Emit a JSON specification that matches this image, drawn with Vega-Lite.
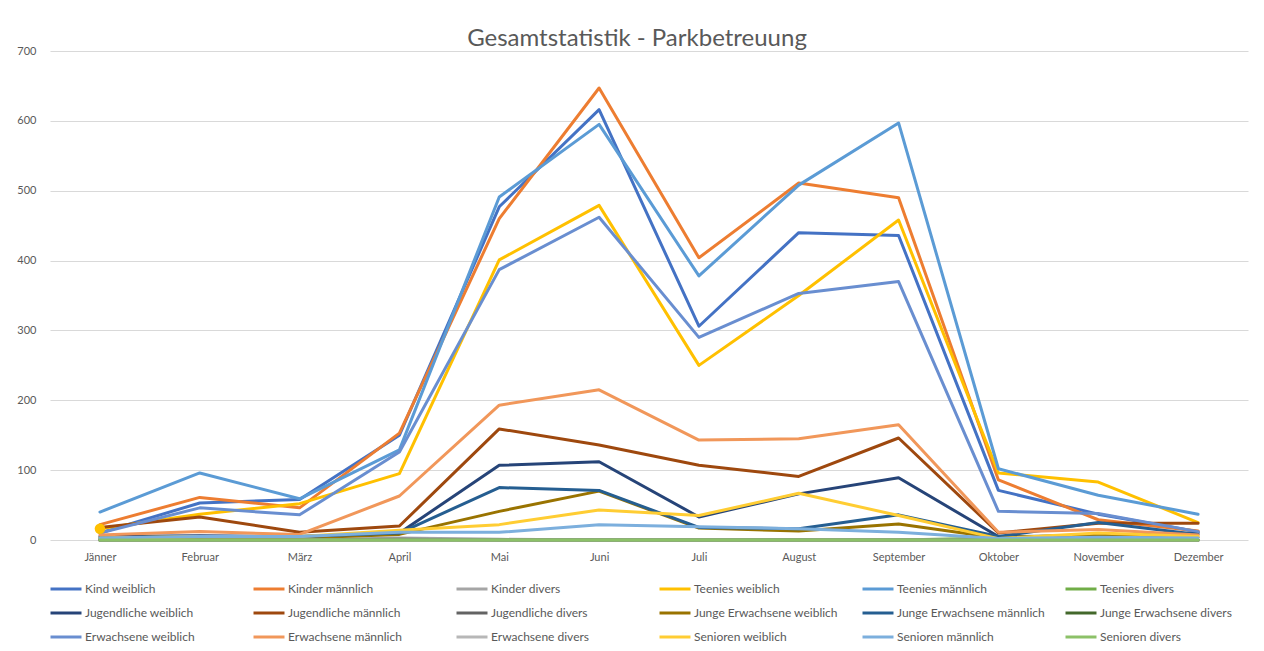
{
  "$schema": "https://vega.github.io/schema/vega-lite/v6.json",
  "width": 1198,
  "height": 489,
  "autosize": "none",
  "padding": {"left": 50, "top": 51, "right": 16, "bottom": 111},
  "background": "white",
  "title": {
    "text": "Gesamtstatistik - Parkbetreuung",
    "fontSize": 24,
    "font": "Lato",
    "fontWeight": "normal",
    "color": "#595959",
    "anchor": "middle",
    "dx": -12,
    "offset": -6
  },
  "config": {
    "view": {"stroke": null},
    "font": "Lato",
    "axis": {
      "labelFont": "Lato",
      "labelColor": "#595959",
      "labelFontSize": 11,
      "titleColor": "#595959"
    },
    "legend": {
      "labelFont": "Lato",
      "labelColor": "#595959",
      "labelFontSize": 12
    }
  },
  "data": {
    "values": [
      {"s":"Kind weiblich","m":"Jänner","v":10},{"s":"Kind weiblich","m":"Februar","v":53},{"s":"Kind weiblich","m":"März","v":58},{"s":"Kind weiblich","m":"April","v":150},{"s":"Kind weiblich","m":"Mai","v":477},{"s":"Kind weiblich","m":"Juni","v":616},{"s":"Kind weiblich","m":"Juli","v":306},{"s":"Kind weiblich","m":"August","v":440},{"s":"Kind weiblich","m":"September","v":436},{"s":"Kind weiblich","m":"Oktober","v":71},{"s":"Kind weiblich","m":"November","v":37},{"s":"Kind weiblich","m":"Dezember","v":12},
      {"s":"Kinder männlich","m":"Jänner","v":22},{"s":"Kinder männlich","m":"Februar","v":61},{"s":"Kinder männlich","m":"März","v":46},{"s":"Kinder männlich","m":"April","v":153},{"s":"Kinder männlich","m":"Mai","v":460},{"s":"Kinder männlich","m":"Juni","v":647},{"s":"Kinder männlich","m":"Juli","v":404},{"s":"Kinder männlich","m":"August","v":511},{"s":"Kinder männlich","m":"September","v":490},{"s":"Kinder männlich","m":"Oktober","v":86},{"s":"Kinder männlich","m":"November","v":29},{"s":"Kinder männlich","m":"Dezember","v":13},
      {"s":"Kinder divers","m":"Jänner","v":0},{"s":"Kinder divers","m":"Februar","v":0},{"s":"Kinder divers","m":"März","v":0},{"s":"Kinder divers","m":"April","v":3},{"s":"Kinder divers","m":"Mai","v":1},{"s":"Kinder divers","m":"Juni","v":0},{"s":"Kinder divers","m":"Juli","v":0},{"s":"Kinder divers","m":"August","v":0},{"s":"Kinder divers","m":"September","v":0},{"s":"Kinder divers","m":"Oktober","v":0},{"s":"Kinder divers","m":"November","v":1},{"s":"Kinder divers","m":"Dezember","v":0},
      {"s":"Teenies weiblich","m":"Jänner","v":16},{"s":"Teenies weiblich","m":"Februar","v":37},{"s":"Teenies weiblich","m":"März","v":52},{"s":"Teenies weiblich","m":"April","v":95},{"s":"Teenies weiblich","m":"Mai","v":401},{"s":"Teenies weiblich","m":"Juni","v":479},{"s":"Teenies weiblich","m":"Juli","v":250},{"s":"Teenies weiblich","m":"August","v":350},{"s":"Teenies weiblich","m":"September","v":458},{"s":"Teenies weiblich","m":"Oktober","v":96},{"s":"Teenies weiblich","m":"November","v":83},{"s":"Teenies weiblich","m":"Dezember","v":25},
      {"s":"Teenies männlich","m":"Jänner","v":40},{"s":"Teenies männlich","m":"Februar","v":96},{"s":"Teenies männlich","m":"März","v":59},{"s":"Teenies männlich","m":"April","v":129},{"s":"Teenies männlich","m":"Mai","v":491},{"s":"Teenies männlich","m":"Juni","v":595},{"s":"Teenies männlich","m":"Juli","v":378},{"s":"Teenies männlich","m":"August","v":508},{"s":"Teenies männlich","m":"September","v":597},{"s":"Teenies männlich","m":"Oktober","v":102},{"s":"Teenies männlich","m":"November","v":64},{"s":"Teenies männlich","m":"Dezember","v":37},
      {"s":"Teenies divers","m":"Jänner","v":0},{"s":"Teenies divers","m":"Februar","v":0},{"s":"Teenies divers","m":"März","v":0},{"s":"Teenies divers","m":"April","v":0},{"s":"Teenies divers","m":"Mai","v":0},{"s":"Teenies divers","m":"Juni","v":0},{"s":"Teenies divers","m":"Juli","v":0},{"s":"Teenies divers","m":"August","v":0},{"s":"Teenies divers","m":"September","v":0},{"s":"Teenies divers","m":"Oktober","v":3},{"s":"Teenies divers","m":"November","v":0},{"s":"Teenies divers","m":"Dezember","v":0},
      {"s":"Jugendliche weiblich","m":"Jänner","v":5},{"s":"Jugendliche weiblich","m":"Februar","v":6},{"s":"Jugendliche weiblich","m":"März","v":5},{"s":"Jugendliche weiblich","m":"April","v":10},{"s":"Jugendliche weiblich","m":"Mai","v":107},{"s":"Jugendliche weiblich","m":"Juni","v":112},{"s":"Jugendliche weiblich","m":"Juli","v":33},{"s":"Jugendliche weiblich","m":"August","v":66},{"s":"Jugendliche weiblich","m":"September","v":89},{"s":"Jugendliche weiblich","m":"Oktober","v":5},{"s":"Jugendliche weiblich","m":"November","v":6},{"s":"Jugendliche weiblich","m":"Dezember","v":10},
      {"s":"Jugendliche männlich","m":"Jänner","v":18},{"s":"Jugendliche männlich","m":"Februar","v":33},{"s":"Jugendliche männlich","m":"März","v":11},{"s":"Jugendliche männlich","m":"April","v":20},{"s":"Jugendliche männlich","m":"Mai","v":159},{"s":"Jugendliche männlich","m":"Juni","v":136},{"s":"Jugendliche männlich","m":"Juli","v":107},{"s":"Jugendliche männlich","m":"August","v":91},{"s":"Jugendliche männlich","m":"September","v":146},{"s":"Jugendliche männlich","m":"Oktober","v":10},{"s":"Jugendliche männlich","m":"November","v":24},{"s":"Jugendliche männlich","m":"Dezember","v":24},
      {"s":"Jugendliche divers","m":"Jänner","v":0},{"s":"Jugendliche divers","m":"Februar","v":0},{"s":"Jugendliche divers","m":"März","v":0},{"s":"Jugendliche divers","m":"April","v":1},{"s":"Jugendliche divers","m":"Mai","v":0},{"s":"Jugendliche divers","m":"Juni","v":0},{"s":"Jugendliche divers","m":"Juli","v":0},{"s":"Jugendliche divers","m":"August","v":0},{"s":"Jugendliche divers","m":"September","v":0},{"s":"Jugendliche divers","m":"Oktober","v":0},{"s":"Jugendliche divers","m":"November","v":0},{"s":"Jugendliche divers","m":"Dezember","v":0},
      {"s":"Junge Erwachsene weiblich","m":"Jänner","v":2},{"s":"Junge Erwachsene weiblich","m":"Februar","v":3},{"s":"Junge Erwachsene weiblich","m":"März","v":3},{"s":"Junge Erwachsene weiblich","m":"April","v":8},{"s":"Junge Erwachsene weiblich","m":"Mai","v":41},{"s":"Junge Erwachsene weiblich","m":"Juni","v":70},{"s":"Junge Erwachsene weiblich","m":"Juli","v":17},{"s":"Junge Erwachsene weiblich","m":"August","v":13},{"s":"Junge Erwachsene weiblich","m":"September","v":23},{"s":"Junge Erwachsene weiblich","m":"Oktober","v":3},{"s":"Junge Erwachsene weiblich","m":"November","v":8},{"s":"Junge Erwachsene weiblich","m":"Dezember","v":4},
      {"s":"Junge Erwachsene männlich","m":"Jänner","v":3},{"s":"Junge Erwachsene männlich","m":"Februar","v":5},{"s":"Junge Erwachsene männlich","m":"März","v":5},{"s":"Junge Erwachsene männlich","m":"April","v":10},{"s":"Junge Erwachsene männlich","m":"Mai","v":75},{"s":"Junge Erwachsene männlich","m":"Juni","v":71},{"s":"Junge Erwachsene männlich","m":"Juli","v":18},{"s":"Junge Erwachsene männlich","m":"August","v":16},{"s":"Junge Erwachsene männlich","m":"September","v":36},{"s":"Junge Erwachsene männlich","m":"Oktober","v":5},{"s":"Junge Erwachsene männlich","m":"November","v":25},{"s":"Junge Erwachsene männlich","m":"Dezember","v":8},
      {"s":"Junge Erwachsene divers","m":"Jänner","v":0},{"s":"Junge Erwachsene divers","m":"Februar","v":0},{"s":"Junge Erwachsene divers","m":"März","v":0},{"s":"Junge Erwachsene divers","m":"April","v":0},{"s":"Junge Erwachsene divers","m":"Mai","v":0},{"s":"Junge Erwachsene divers","m":"Juni","v":0},{"s":"Junge Erwachsene divers","m":"Juli","v":0},{"s":"Junge Erwachsene divers","m":"August","v":0},{"s":"Junge Erwachsene divers","m":"September","v":0},{"s":"Junge Erwachsene divers","m":"Oktober","v":0},{"s":"Junge Erwachsene divers","m":"November","v":0},{"s":"Junge Erwachsene divers","m":"Dezember","v":0},
      {"s":"Erwachsene weiblich","m":"Jänner","v":10},{"s":"Erwachsene weiblich","m":"Februar","v":46},{"s":"Erwachsene weiblich","m":"März","v":36},{"s":"Erwachsene weiblich","m":"April","v":126},{"s":"Erwachsene weiblich","m":"Mai","v":387},{"s":"Erwachsene weiblich","m":"Juni","v":462},{"s":"Erwachsene weiblich","m":"Juli","v":290},{"s":"Erwachsene weiblich","m":"August","v":353},{"s":"Erwachsene weiblich","m":"September","v":370},{"s":"Erwachsene weiblich","m":"Oktober","v":41},{"s":"Erwachsene weiblich","m":"November","v":38},{"s":"Erwachsene weiblich","m":"Dezember","v":12},
      {"s":"Erwachsene männlich","m":"Jänner","v":7},{"s":"Erwachsene männlich","m":"Februar","v":12},{"s":"Erwachsene männlich","m":"März","v":8},{"s":"Erwachsene männlich","m":"April","v":63},{"s":"Erwachsene männlich","m":"Mai","v":193},{"s":"Erwachsene männlich","m":"Juni","v":215},{"s":"Erwachsene männlich","m":"Juli","v":143},{"s":"Erwachsene männlich","m":"August","v":145},{"s":"Erwachsene männlich","m":"September","v":165},{"s":"Erwachsene männlich","m":"Oktober","v":11},{"s":"Erwachsene männlich","m":"November","v":15},{"s":"Erwachsene männlich","m":"Dezember","v":7},
      {"s":"Erwachsene divers","m":"Jänner","v":0},{"s":"Erwachsene divers","m":"Februar","v":0},{"s":"Erwachsene divers","m":"März","v":0},{"s":"Erwachsene divers","m":"April","v":0},{"s":"Erwachsene divers","m":"Mai","v":0},{"s":"Erwachsene divers","m":"Juni","v":0},{"s":"Erwachsene divers","m":"Juli","v":0},{"s":"Erwachsene divers","m":"August","v":0},{"s":"Erwachsene divers","m":"September","v":0},{"s":"Erwachsene divers","m":"Oktober","v":0},{"s":"Erwachsene divers","m":"November","v":0},{"s":"Erwachsene divers","m":"Dezember","v":0},
      {"s":"Senioren weiblich","m":"Jänner","v":3},{"s":"Senioren weiblich","m":"Februar","v":5},{"s":"Senioren weiblich","m":"März","v":5},{"s":"Senioren weiblich","m":"April","v":14},{"s":"Senioren weiblich","m":"Mai","v":22},{"s":"Senioren weiblich","m":"Juni","v":43},{"s":"Senioren weiblich","m":"Juli","v":35},{"s":"Senioren weiblich","m":"August","v":67},{"s":"Senioren weiblich","m":"September","v":35},{"s":"Senioren weiblich","m":"Oktober","v":2},{"s":"Senioren weiblich","m":"November","v":10},{"s":"Senioren weiblich","m":"Dezember","v":5},
      {"s":"Senioren männlich","m":"Jänner","v":3},{"s":"Senioren männlich","m":"Februar","v":5},{"s":"Senioren männlich","m":"März","v":5},{"s":"Senioren männlich","m":"April","v":11},{"s":"Senioren männlich","m":"Mai","v":11},{"s":"Senioren männlich","m":"Juni","v":22},{"s":"Senioren männlich","m":"Juli","v":19},{"s":"Senioren männlich","m":"August","v":16},{"s":"Senioren männlich","m":"September","v":11},{"s":"Senioren männlich","m":"Oktober","v":2},{"s":"Senioren männlich","m":"November","v":4},{"s":"Senioren männlich","m":"Dezember","v":3},
      {"s":"Senioren divers","m":"Jänner","v":0},{"s":"Senioren divers","m":"Februar","v":0},{"s":"Senioren divers","m":"März","v":0},{"s":"Senioren divers","m":"April","v":0},{"s":"Senioren divers","m":"Mai","v":0},{"s":"Senioren divers","m":"Juni","v":0},{"s":"Senioren divers","m":"Juli","v":0},{"s":"Senioren divers","m":"August","v":0},{"s":"Senioren divers","m":"September","v":0},{"s":"Senioren divers","m":"Oktober","v":0},{"s":"Senioren divers","m":"November","v":0},{"s":"Senioren divers","m":"Dezember","v":0}
    ]
  },
  "encoding": {
    "x": {
      "field": "m",
      "type": "ordinal",
      "sort": ["Jänner","Februar","März","April","Mai","Juni","Juli","August","September","Oktober","November","Dezember"],
      "scale": {"type": "point", "padding": 0.5},
      "axis": {"title": null, "labelAngle": 0, "ticks": false, "domain": false, "grid": false, "labelPadding": 11}
    },
    "y": {
      "field": "v",
      "type": "quantitative",
      "scale": {"domain": [0, 700], "nice": false},
      "axis": {"title": null, "values": [0,100,200,300,400,500,600,700], "ticks": false, "domain": false, "grid": true, "gridColor": "#D9D9D9", "gridWidth": 1, "labelPadding": 14}
    }
  },
  "layer": [
    {
      "mark": {"type": "line", "strokeWidth": 3, "strokeJoin": "round", "strokeCap": "round"},
      "encoding": {
        "color": {
          "field": "s",
          "type": "nominal",
          "sort": null,
          "scale": {
            "domain": ["Kind weiblich","Kinder männlich","Kinder divers","Teenies weiblich","Teenies männlich","Teenies divers","Jugendliche weiblich","Jugendliche männlich","Jugendliche divers","Junge Erwachsene weiblich","Junge Erwachsene männlich","Junge Erwachsene divers","Erwachsene weiblich","Erwachsene männlich","Erwachsene divers","Senioren weiblich","Senioren männlich","Senioren divers"],
            "range": ["#4472C4","#ED7D31","#A5A5A5","#FFC000","#5B9BD5","#70AD47","#264478","#9E480E","#636363","#997300","#255E91","#43682B","#698ED0","#F1975A","#B7B7B7","#FFCD33","#7CAFDD","#8CC168"]
          },
          "legend": {
            "title": null,
            "orient": "none",
            "legendX": -1,
            "legendY": 521,
            "direction": "horizontal",
            "columns": 6,
            "gridAlign": "all",
            "columnPadding": 14,
            "rowPadding": 1,
            "symbolType": "stroke",
            "symbolSize": 961,
            "symbolStrokeWidth": 3,
            "labelOffset": 2,
            "labelLimit": 300,
            "padding": 0
          }
        }
      }
    },
    {
      "transform": [{"filter": "datum.s === 'Teenies weiblich' && datum.m === 'Jänner'"}],
      "mark": {"type": "point", "filled": true, "size": 110, "opacity": 1, "color": "#FFC000"},
      "encoding": {}
    }
  ]
}
